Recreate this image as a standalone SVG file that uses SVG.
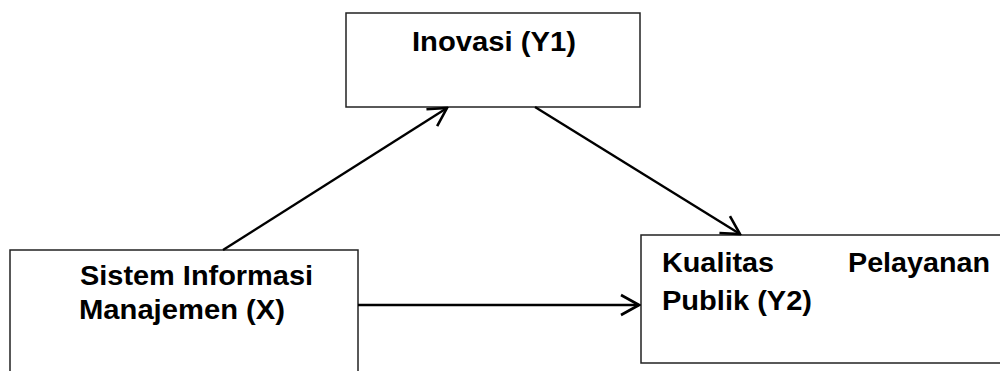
<svg xmlns="http://www.w3.org/2000/svg" width="1000" height="371" viewBox="0 0 1000 371">
<style>
.box{fill:#fff;stroke:#222;stroke-width:1.5}
.lbl{font-family:"Liberation Sans",Arial,sans-serif;font-weight:bold;font-size:27px;fill:#000}
.conn{stroke:#000;stroke-width:2.4;fill:none;marker-end:url(#arr)}
</style>
<defs>
<marker id="arr" markerUnits="userSpaceOnUse" viewBox="-20 -12 22 24" refX="0" refY="0" markerWidth="22" markerHeight="24" orient="auto">
<path d="M-18,-10 L0,0 L-18,10" fill="none" stroke="#000" stroke-width="2.6"/>
</marker>
</defs>
<rect width="1000" height="371" fill="#fff"/>
<g id="node-y1">
<rect class="box" x="346" y="13" width="294" height="94"/>
<text class="lbl" x="412" y="51" textLength="164" lengthAdjust="spacingAndGlyphs">Inovasi (Y1)</text>
</g>
<g id="node-x">
<rect class="box" x="10" y="250" width="348" height="140"/>
<text class="lbl" x="80" y="285" textLength="233" lengthAdjust="spacingAndGlyphs">Sistem Informasi</text>
<text class="lbl" x="79" y="319" textLength="206" lengthAdjust="spacingAndGlyphs">Manajemen (X)</text>
</g>
<g id="node-y2">
<rect class="box" x="641" y="235" width="380" height="128"/>
<text class="lbl" x="662" y="272" textLength="112" lengthAdjust="spacingAndGlyphs">Kualitas</text>
<text class="lbl" x="848" y="272" textLength="142" lengthAdjust="spacingAndGlyphs">Pelayanan</text>
<text class="lbl" x="662" y="310" textLength="150" lengthAdjust="spacingAndGlyphs">Publik (Y2)</text>
</g>
<g id="connectors">
<line class="conn" x1="223" y1="250" x2="447" y2="108"/>
<line class="conn" x1="535" y1="107" x2="740" y2="234"/>
<line class="conn" x1="358" y1="305" x2="639" y2="305"/>
</g>
</svg>
